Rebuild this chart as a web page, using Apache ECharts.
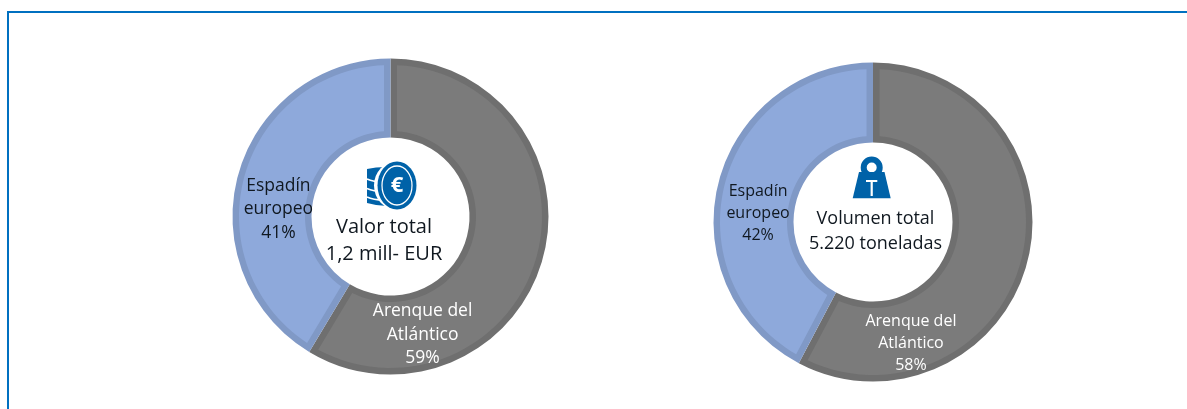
<!DOCTYPE html>
<html><head><meta charset="utf-8">
<style>html,body{margin:0;padding:0;background:#fff}#c{width:1187px;height:409px}</style>
<script src="https://cdn.jsdelivr.net/npm/echarts@6/dist/echarts.min.js"></script>
</head><body><div id="c"></div>
<script>
const categories = ['Arenque del\nAtlántico', 'Espadín\neuropeo'];
const valorShares = [58.6, 41.4];
const volumenShares = [57.7, 42.3];
const valorCenter = 'Valor total\n1,2 mill- EUR';
const volumenCenter = 'Volumen total\n5.220 toneladas';
const FONT = '"Open Sans"';
const fills = ['#7b7b7b', '#8ea9db'];
const borders = ['#6f6f6f', '#8099c6'];
const blue = '#0062a8';
const EDGE = 6.5;

// Base pie: each slice in its edge colour.
function edgePie(values, center, radius) {
  return {
    type: 'pie', center, radius, startAngle: 90, clockwise: true, silent: true,
    z: 2, label: { show: false }, labelLine: { show: false },
    data: values.map((v, i) => ({ name: categories[i], value: v, itemStyle: { color: borders[i], borderWidth: 0 } }))
  };
}
// Transparent pie on top that carries the labels.
function labelPie(values, center, radius, offsets, fontSize, lineHeight) {
  return {
    type: 'pie', center, radius, startAngle: 90, clockwise: true, silent: true,
    avoidLabelOverlap: false, z: 5,
    data: values.map((v, i) => ({
      name: categories[i], value: v,
      itemStyle: { color: 'rgba(0,0,0,0)', borderWidth: 0 },
      label: {
        show: true, position: 'inside', offset: offsets[i],
        formatter: p => p.name + '\n' + Math.round(p.value) + '%',
        color: i === 0 ? '#ffffff' : '#101820',
        fontFamily: FONT, fontSize, lineHeight, textBorderWidth: 0
      }
    }))
  };
}
// Inner fill of each slice, inset from the slice edges by a constant width.
function insetFill(values, center, radius) {
  const total = values.reduce((a, b) => a + b, 0);
  const [r0, r1] = [radius[0] + EDGE, radius[1] - EDGE];
  return {
    type: 'custom', coordinateSystem: 'none', silent: true, z: 3,
    data: values.map((v, i) => [v, i]),
    renderItem: (params, api) => {
      const i = api.value(1);
      let before = 0;
      for (let k = 0; k < i; k++) before += values[k];
      const a0 = before / total * 2 * Math.PI;
      const a1 = (before + api.value(0)) / total * 2 * Math.PI;
      const pt = (r, a) => [center[0] + r * Math.sin(a), center[1] - r * Math.cos(a)];
      const arc = (r) => {
        const d = Math.asin(EDGE / r), out = [];
        for (let s = 0; s <= 60; s++) out.push(pt(r, a0 + d + (a1 - a0 - 2 * d) * s / 60));
        return out;
      };
      return { type: 'polygon', shape: { points: arc(r1).concat(arc(r0).reverse()) }, style: { fill: fills[i] } };
    }
  };
}
function centerText(text, x, y, fontSize, lineHeight) {
  return { type: 'text', x, y, z: 10, silent: true, style: {
    text, fontFamily: FONT, fontSize, lineHeight, fill: '#101820', align: 'center', verticalAlign: 'middle'
  }};
}
function oval(cx, cy, rx, ry, style) {
  return { type: 'circle', x: cx, y: cy, z: 10, scaleX: rx / ry, shape: { cx: 0, cy: 0, r: ry }, style };
}
function stripe(y) {
  return { type: 'bezierCurve', z: 10, shape: { x1: 367, y1: y, x2: 384, y2: y + 3, cpx1: 372, cpy1: y + 2.5, cpx2: 378, cpy2: y + 3 }, style: { fill: 'none', stroke: '#fff', lineWidth: 1.5 } };
}
const leftC = [390.5, 216.5], leftR = [79, 158];
const rightC = [873, 222], rightR = [79.5, 159.5];
const chart = echarts.init(document.getElementById('c'), null, { renderer: 'canvas' });
chart.setOption({
  animation: false,
  backgroundColor: '#ffffff',
  series: [
    edgePie(valorShares, leftC, leftR),
    edgePie(volumenShares, rightC, rightR),
    insetFill(valorShares, leftC, leftR),
    insetFill(volumenShares, rightC, rightR),
    labelPie(valorShares, leftC, leftR, [[-85, 86], [5, 25]], 17.5, 23.5),
    labelPie(volumenShares, rightC, rightR, [[-81, 92], [4, 21]], 16, 22)
  ],
  graphic: [
    { type: 'rect', shape: { x: 7, y: 11, width: 1180, height: 2 }, style: { fill: '#0070c0' } },
    { type: 'rect', shape: { x: 7, y: 11, width: 2, height: 398 }, style: { fill: '#0070c0' } },
    centerText(valorCenter, 384, 241, 20, 27),
    centerText(volumenCenter, 875.5, 231.5, 18, 25),
    // coins icon
    { type: 'polygon', z: 10, shape: { points: [[367, 169], [376, 167.5], [387, 167], [398, 167], [398, 206], [387, 206], [376, 205], [367, 203]] }, style: { fill: blue } },
    stripe(179), stripe(188.5), stripe(197),
    oval(397, 185.5, 23, 24.5, { fill: '#fff' }),
    oval(397, 185.5, 19.5, 24, { fill: blue }),
    oval(397, 185.5, 15, 19.5, { fill: 'none', stroke: '#fff', lineWidth: 1.6 }),
    { type: 'text', z: 10, x: 397, y: 186, style: { text: '€', fontFamily: FONT, fontWeight: 'bold', fontSize: 22, fill: '#fff', align: 'center', verticalAlign: 'middle' } },
    // weight icon
    { type: 'circle', z: 10, shape: { cx: 871.7, cy: 167.5, r: 8 }, style: { fill: '#fff', stroke: blue, lineWidth: 6 } },
    { type: 'polygon', z: 10, shape: { points: [[859, 172], [884.5, 172], [890.7, 198.3], [852.7, 198.3]] }, style: { fill: blue } },
    { type: 'polyline', z: 10, shape: { points: [[866, 181], [877.3, 181]] }, style: { stroke: '#fff', lineWidth: 2 } },
    { type: 'polyline', z: 10, shape: { points: [[871.7, 181], [871.7, 196]] }, style: { stroke: '#fff', lineWidth: 2.2 } }
  ]
});
</script></body></html>
